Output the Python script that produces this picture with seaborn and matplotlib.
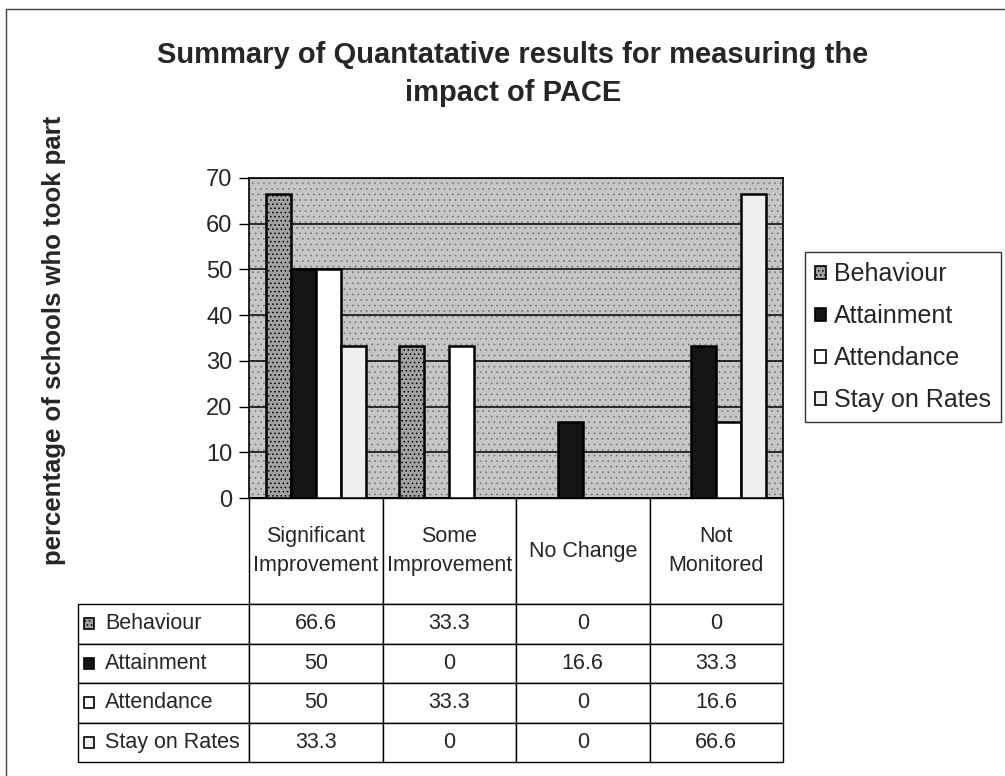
import matplotlib
matplotlib.use("Agg")
import matplotlib.pyplot as plt
from matplotlib.patches import Patch, Rectangle
from matplotlib.lines import Line2D
import pandas as pd
import seaborn as sns

sns.set_style("white")
plt.rcParams['font.family'] = ['Liberation Sans', 'DejaVu Sans']
plt.rcParams['hatch.linewidth'] = 0.6

# 数据
categories = ["Significant\nImprovement", "Some\nImprovement", "No Change", "Not\nMonitored"]
series = ["Behaviour", "Attainment", "Attendance", "Stay on Rates"]
behaviour = [66.6, 33.3, 0, 0]
attainment = [50, 0, 16.6, 33.3]
attendance = [50, 33.3, 0, 16.6]
stay_on = [33.3, 0, 0, 66.6]
values = [behaviour, attainment, attendance, stay_on]

colors = {"Behaviour": "#a2a2a2", "Attainment": "#151515",
          "Attendance": "#ffffff", "Stay on Rates": "#efefef"}
hatches = {"Behaviour": "....", "Attainment": "", "Attendance": "", "Stay on Rates": ""}

rows = []
for s, vals in zip(series, values):
    for c, v in zip(categories, vals):
        rows.append({"cat": c, "series": s, "val": v})
df = pd.DataFrame(rows)

W, H = 1005, 776
fig = plt.figure(figsize=(W / 100, H / 100), dpi=100)
# 绘图区 (像素位置)
px_l, px_r, px_t, px_b = 249, 783, 178, 498
ax = fig.add_axes([px_l / W, 1 - px_b / H, (px_r - px_l) / W, (px_b - px_t) / H])
ax.set_facecolor("#c6c6c6")
ax.add_patch(Rectangle((0, 0), 1, 1, transform=ax.transAxes, facecolor="none",
                       edgecolor="#808080", hatch="...", lw=0, zorder=0))

sns.barplot(data=df, x="cat", y="val", hue="series", order=categories,
            hue_order=series, palette=colors, width=0.75, edgecolor="black",
            linewidth=1.8, saturation=1, ax=ax, zorder=3)
for cont, s in zip(ax.containers, series):
    for bar in cont:
        bar.set_hatch(hatches[s])
        bar.set_zorder(3)

ax.set_ylim(0, 70)
ax.set_xlim(-0.5, 3.5)
ax.set_yticks(range(0, 71, 10))
ax.tick_params(axis="y", labelsize=17, length=7, width=1, color="black", pad=5, left=True)
ax.set_xticks([])
ax.set_xlabel("")
ax.set_ylabel("")
ax.yaxis.grid(True, color="black", lw=1.1)
ax.set_axisbelow(True)
for sp in ax.spines.values():
    sp.set_color("black")
    sp.set_linewidth(1.2)
ax.get_legend().remove()

# 图例
handles = [Patch(facecolor=colors[s], edgecolor="black", hatch=hatches[s], label=s, lw=1.2)
           for s in series]
fig.legend(handles=handles, loc="upper left", bbox_to_anchor=(805 / W, 1 - 252 / H),
           frameon=True, fancybox=False, edgecolor="black", fontsize=18,
           handlelength=0.42, handleheight=0.42, handletextpad=0.35,
           labelspacing=0.72, borderpad=0.4, borderaxespad=0)

# 数据表
col0_w, col_w = 171, (px_r - px_l) / 4
head_h, row_h = 106, 39.5
cell_text = [[""] + categories]
for s, vals in zip(series, values):
    cell_text.append([s] + [f"{v:g}" for v in vals])
tab_w = col0_w + 4 * col_w
tab_h = head_h + 4 * row_h
tbl = ax.table(cellText=cell_text, cellLoc="center",
               bbox=[-col0_w / (px_r - px_l), -tab_h / (px_b - px_t),
                     tab_w / (px_r - px_l), tab_h / (px_b - px_t)])
tbl.auto_set_font_size(False)
for (r, c), cell in tbl.get_celld().items():
    cell.set_width(col0_w if c == 0 else col_w)
    cell.set_height(head_h if r == 0 else row_h)
    cell.set_edgecolor("black")
    cell.set_linewidth(1.0)
    cell.get_text().set_fontsize(15.5)
    if r == 0:
        cell.get_text().set_linespacing(1.45)
    if r == 0 and c == 0:
        cell.visible_edges = ""
    if c == 0 and r > 0:
        cell.get_text().set_ha("left")
        cell.PAD = 0.16
        cell._loc = "left"

# 行标签前的小方块
for i, s in enumerate(series):
    yc = -(head_h + (i + 0.5) * row_h) / (px_b - px_t)
    ax.add_patch(Rectangle((-(col0_w - 6) / (px_r - px_l), yc - 5.5 / (px_b - px_t)),
                           10 / (px_r - px_l), 11 / (px_b - px_t), transform=ax.transAxes,
                           facecolor=colors[s], edgecolor="black", hatch=hatches[s],
                           lw=1.2, clip_on=False, zorder=5))

fig.text(513 / W, 1 - 74 / H, "Summary of Quantatative results for measuring the\nimpact of PACE",
         ha="center", va="center", fontsize=21, fontweight="bold", linespacing=1.45)
fig.text(54 / W, 1 - 340 / H, "percentage of schools who took part", rotation=90,
         ha="center", va="center", fontsize=18.5, fontweight="bold")

# 外框
fig.add_artist(Line2D([6 / W, 6 / W], [0, 1 - 9 / H], color="#444444", lw=1))
fig.add_artist(Line2D([6 / W, 1], [1 - 9 / H, 1 - 9 / H], color="#444444", lw=1))

fig.savefig("out.png", dpi=100)
